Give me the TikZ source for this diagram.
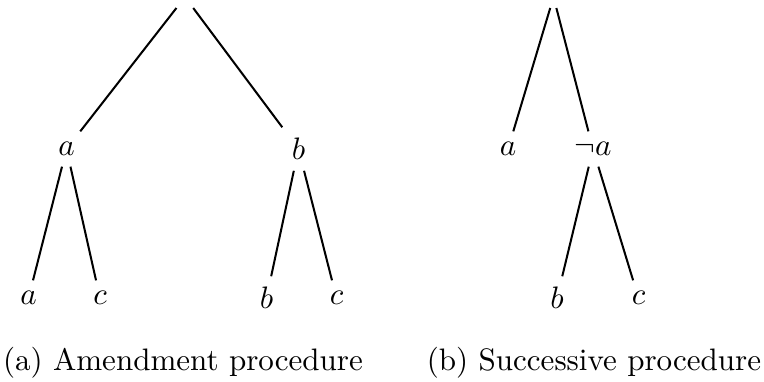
\documentclass[tikz,border=0pt]{standalone}
\begin{document}
\begin{tikzpicture}[x=0.322pt,y=-0.322pt,
  edge/.style={line width=0.65pt},
  caption/.style={anchor=base,inner sep=0pt}]
\useasboundingbox (0,0) rectangle (764,381);
% tree (a)
\node (ra) at (185,-3) {};
\node (a1) at (66.5,149) {$a$};
\node (b1) at (298.5,149) {$b$};
\node (a2) at (28.5,298) {$a$};
\node (c2) at (100,298) {$c$};
\node (b3) at (266.5,298) {$b$};
\node (c3) at (336.5,298) {$c$};
\draw[edge] (ra) -- (a1);
\draw[edge] (ra) -- (b1);
\draw[edge] (a1) -- (a2);
\draw[edge] (a1) -- (c2);
\draw[edge] (b1) -- (b3);
\draw[edge] (b1) -- (c3);
\node[caption] (capa) at (183,370) {(a) Amendment procedure};
% tree (b)
\node (rb) at (553.5,-3) {};
\node (sa) at (508,149) {$a$};
\node (sna) at (593,149) {$\neg a$};
\node (sb) at (557,298) {$b$};
\node (sc) at (638.5,298) {$c$};
\draw[edge] (rb) -- (sa);
\draw[edge] (rb) -- (sna);
\draw[edge] (sna) -- (sb);
\draw[edge] (sna) -- (sc);
\node[caption] (capb) at (594,370) {(b) Successive procedure};
\end{tikzpicture}
\end{document}
